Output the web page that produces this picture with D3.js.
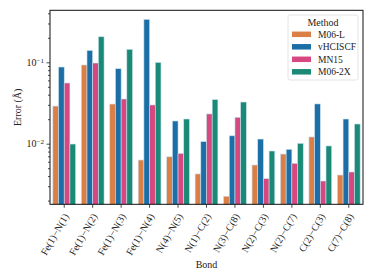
<!DOCTYPE html>
<html>
<head>
<meta charset="utf-8">
<script src="https://cdn.jsdelivr.net/npm/d3@7"></script>
<style>
  body { margin: 0; background: #fff; }
  text { font-family: "Liberation Serif", "DejaVu Serif", serif; fill: #222; }
</style>
</head>
<body>
<div id="chart"></div>
<script>
// bonds and per-method errors (Angstrom)
var bonds = ["Fe(1)−N(1)", "Fe(1)−N(2)", "Fe(1)−N(3)", "Fe(1)−N(4)", "N(4)−N(5)", "N(1)−C(2)",
             "N(3)−C(8)", "N(2)−C(3)", "N(2)−C(7)", "C(2)−C(3)", "C(7)−C(8)"];
var methods = ["M06-L", "vHCISCF", "MN15", "M06-2X"];
var colors = ["#dc7f47", "#1c6fa6", "#d6487f", "#1a8a76"];

var m06l    = [0.029, 0.0927, 0.0307, 0.0063, 0.0069, 0.00425, 0.00226, 0.00547, 0.00746, 0.0121, 0.00412];
var vhciscf = [0.0875, 0.140, 0.0834, 0.337, 0.019, 0.0106, 0.0125, 0.0114, 0.00853, 0.0308, 0.0201];
var mn15    = [0.0557, 0.098, 0.0354, 0.0299, 0.0076, 0.0232, 0.0211, 0.00372, 0.00574, 0.00348, 0.00449];
var m062x   = [0.0099, 0.206, 0.1445, 0.0995, 0.0201, 0.0348, 0.0325, 0.00813, 0.0101, 0.00938, 0.01745];

var yMajor = [0.01, 0.1];
var yMinor = [0.002, 0.003, 0.004, 0.005, 0.006, 0.007, 0.008, 0.009,
              0.02, 0.03, 0.04, 0.05, 0.06, 0.07, 0.08, 0.09, 0.2, 0.3, 0.4];

var W = 374, H = 280;
var mLeft = 50, mRight = 363, mTop = 10.3, mBottom = 204.3;

var svg = d3.select("#chart").append("svg").attr("width", W).attr("height", H);

var x = d3.scaleBand().domain(bonds).range([mLeft, mRight]).paddingInner(0.2).paddingOuter(0.1);
var x1 = d3.scaleBand().domain(methods).range([0, x.bandwidth()]);
var y = d3.scaleLog().domain([0.0018, 0.4355]).range([mBottom, mTop]);

var series = [m06l, vhciscf, mn15, m062x];
var rows = [];
series.forEach(function(s, mi) {
  s.forEach(function(v, bi) {
    rows.push({bond: bonds[bi], method: methods[mi], color: colors[mi], value: v});
  });
});

svg.append("g")
  .selectAll("rect")
  .data(rows)
  .enter().append("rect")
    .attr("x", function(d) { return x(d.bond) + x1(d.method); })
    .attr("width", x1.bandwidth())
    .attr("y", function(d) { return y(d.value); })
    .attr("height", function(d) { return mBottom - y(d.value); })
    .attr("fill", function(d) { return d.color; })
    .attr("stroke", "#c8e0ee")
    .attr("stroke-width", 0.6);

// y axis: minor then major ticks
svg.append("g")
  .attr("transform", "translate(" + mLeft + ",0)")
  .call(d3.axisLeft(y).tickValues(yMinor).tickSize(2).tickFormat(""))
  .call(function(g) { g.select(".domain").remove(); g.selectAll("line").attr("stroke", "#222").attr("stroke-width", 0.8); });

var yMaj = svg.append("g")
  .attr("transform", "translate(" + mLeft + ",0)")
  .call(d3.axisLeft(y).tickValues(yMajor).tickSize(3.5).tickFormat(""));
yMaj.select(".domain").remove();
yMaj.selectAll("line").attr("stroke", "#222").attr("stroke-width", 0.8);
yMaj.selectAll(".tick").each(function(d) {
  var t = d3.select(this).append("text")
    .attr("x", -6).attr("dy", "0.32em")
    .attr("text-anchor", "end")
    .style("font-size", "10px");
  t.append("tspan").text("10");
  t.append("tspan").attr("dy", "-0.45em").style("font-size", "7px").text("−" + Math.round(-Math.log10(d)));
});

// x axis
var xAx = svg.append("g")
  .attr("transform", "translate(0," + mBottom + ")")
  .call(d3.axisBottom(x).tickSize(3.5).tickFormat(""));
xAx.select(".domain").remove();
xAx.selectAll("line").attr("stroke", "#222").attr("stroke-width", 0.8);
xAx.selectAll(".tick").append("text")
  .attr("text-anchor", "end")
  .attr("transform", "translate(2,10) rotate(-60)")
  .attr("dy", "0.35em")
  .style("font-size", "10px")
  .text(function(d) { return d; });

// frame
svg.append("rect")
  .attr("x", mLeft).attr("y", mTop)
  .attr("width", mRight - mLeft).attr("height", mBottom - mTop)
  .attr("fill", "none").attr("stroke", "#111").attr("stroke-width", 1);

// axis titles
svg.append("text")
  .attr("transform", "translate(17," + ((mTop + mBottom) / 2) + ") rotate(-90)")
  .attr("text-anchor", "middle")
  .attr("dy", "0.35em")
  .style("font-size", "10px")
  .text("Error (Å)");

svg.append("text")
  .attr("x", 206.5).attr("y", 268)
  .attr("text-anchor", "middle")
  .style("font-size", "10px")
  .text("Bond");

// legend
var lg = svg.append("g").attr("transform", "translate(288,15)");
lg.append("rect")
  .attr("width", 70).attr("height", 65).attr("rx", 2)
  .attr("fill", "#fff").attr("fill-opacity", 0.8)
  .attr("stroke", "#ddd").attr("stroke-width", 0.8);
lg.append("text")
  .attr("x", 35).attr("y", 10.5)
  .attr("text-anchor", "middle")
  .style("font-size", "10px")
  .text("Method");
var item = lg.selectAll(".item")
  .data(methods)
  .enter().append("g")
    .attr("class", "item")
    .attr("transform", function(d, i) { return "translate(4," + (19.3 + i * 12.5) + ")"; });
item.append("rect")
  .attr("width", 19).attr("height", 5.5).attr("y", -2.75)
  .attr("fill", function(d, i) { return colors[i]; });
item.append("text")
  .attr("x", 26).attr("dy", "0.35em")
  .style("font-size", "9.5px")
  .text(function(d) { return d; });
</script>
</body>
</html>
